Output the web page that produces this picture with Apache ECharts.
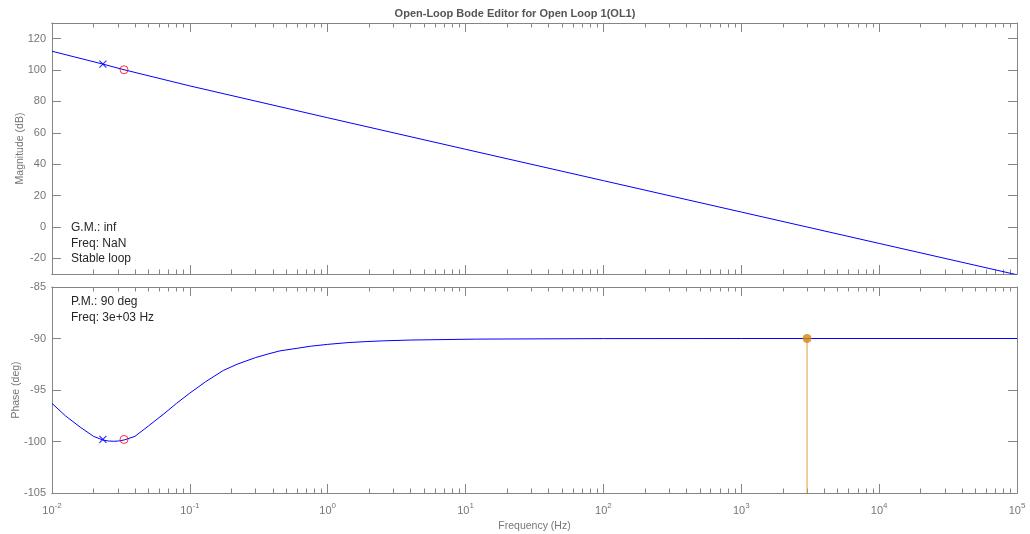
<!DOCTYPE html>
<html><head><meta charset="utf-8">
<script src="https://cdn.jsdelivr.net/npm/echarts@6/dist/echarts.min.js"></script>
<style>html,body{margin:0;padding:0;background:#fff}#c{width:1030px;height:534px}</style>
</head><body><div id="c"></div>
<script>
// ---- data ----
const magFreq = [0.01, 0.0234, 0.0333, 0.1, 1, 10, 100, 1000, 10000, 100000];
const magDb   = [112, 103.8, 100.2, 89.9, 69.6, 49.5, 29.5, 9.5, -10.5, -30.5];
const phaseFreq = [0.01, 0.0125, 0.016, 0.02, 0.0234, 0.0256, 0.028, 0.0305, 0.0334, 0.04, 0.05, 0.065, 0.08, 0.1, 0.13, 0.175, 0.22, 0.3, 0.37, 0.45, 0.6, 0.75, 1, 1.4, 1.9, 2.5, 4, 12, 100, 1000, 100000];
const phaseDeg  = [-96.3, -97.5, -98.6, -99.5, -99.85, -99.95, -99.98, -99.95, -99.85, -99.5, -98.5, -97.3, -96.3, -95.3, -94.2, -93.1, -92.5, -91.85, -91.5, -91.2, -90.95, -90.75, -90.57, -90.4, -90.3, -90.23, -90.15, -90.06, -90.01, -90, -90];
const poleFreq = [0.0234], poleMag = [103.8], polePhase = [-99.8];
const zeroFreq = [0.0333], zeroMag = [100.2], zeroPhase = [-99.8];
const pmFreq = [3000], pmPhase = [-90], phaseFloor = [-105];
const magTicks = [-20, 0, 20, 40, 60, 80, 100, 120];
const phaseTicks = [-105, -100, -95, -90, -85];
const decades = [-2, -1, 0, 1, 2, 3, 4, 5];
const minorMult = [2, 3, 4, 5, 6, 7, 8, 9];
const titleText = 'Open-Loop Bode Editor for Open Loop 1(OL1)';
const gmText = ['G.M.: inf', 'Freq: NaN', 'Stable loop'];
const pmText = ['P.M.: 90 deg', 'Freq: 3e+03 Hz'];

// ---- helpers ----
const FONT = '"Liberation Sans", Arial, Helvetica, sans-serif';
const AX = '#858585', LBL = '#767676', TXT = '#262626';
const majors = decades.map(d => Number(Math.pow(10, d).toPrecision(3)));
const minors = [];
decades.slice(0, -1).forEach(d => minorMult.forEach(k => minors.push(Number((k * Math.pow(10, d)).toPrecision(3)))));
const zip = (a, b) => a.map((v, i) => [v, b[i]]);

function xAxesFor(grid, showLabels) {
  const base = {
    type: 'log', logBase: 10, min: 0.01, max: 100000, gridIndex: grid,
    axisLine: { show: true, onZero: false, lineStyle: { color: AX, width: 1 } },
    splitLine: { show: false }, minorTick: { show: false }
  };
  const mk = (pos, vals, len, labels, name) => Object.assign({}, base, {
    position: pos,
    axisTick: { show: true, inside: true, length: len, customValues: vals, lineStyle: { color: AX } },
    axisLabel: labels ? {
      show: true, customValues: majors, margin: 9, fontFamily: FONT, color: LBL,
      formatter: v => '{b|10}{s|' + Math.round(Math.log10(v)) + '}',
      rich: { b: { fontSize: 11, fontFamily: FONT, color: LBL, verticalAlign: 'bottom', lineHeight: 14 },
              s: { fontSize: 8, fontFamily: FONT, color: LBL, verticalAlign: 'top', lineHeight: 14 } }
    } : { show: false },
    name: name || '', nameLocation: 'middle', nameGap: 28, nameMoveOverlap: false,
    nameTextStyle: { fontFamily: FONT, fontSize: 10.5, color: LBL }
  });
  return [
    mk('bottom', majors, 9, showLabels, showLabels ? 'Frequency (Hz)' : ''),
    mk('bottom', minors, 4.5, false),
    mk('top', majors, 9, false),
    mk('top', minors, 4.5, false)
  ];
}
function yAxesFor(grid, min, max, ticks, name, gap) {
  const base = {
    type: 'value', min: min, max: max, gridIndex: grid,
    axisLine: { show: true, onZero: false, lineStyle: { color: AX, width: 1 } },
    splitLine: { show: false },
    axisTick: { show: true, inside: true, length: 9, customValues: ticks, lineStyle: { color: AX } }
  };
  return [
    Object.assign({}, base, { position: 'left',
      axisLabel: { show: true, customValues: ticks, margin: 6, fontFamily: FONT, fontSize: 11, color: LBL },
      name: name, nameLocation: 'middle', nameGap: gap, nameMoveOverlap: false,
      nameTextStyle: { fontFamily: FONT, fontSize: 10.5, color: LBL } }),
    Object.assign({}, base, { position: 'right', axisLabel: { show: false } })
  ];
}

const xMark = 'path://M0,0L10,10M10,0L0,10';
const option = {
  animation: false,
  backgroundColor: '#ffffff',
  grid: [
    { left: 52, top: 23, width: 965, height: 251, containLabel: false, outerBoundsMode: 'none' },
    { left: 52, top: 287, width: 965, height: 206, containLabel: false, outerBoundsMode: 'none' }
  ],
  xAxis: [].concat(xAxesFor(0, false), xAxesFor(1, true)),
  yAxis: [].concat(yAxesFor(0, -30, 130, magTicks, 'Magnitude (dB)', 26),
                   yAxesFor(1, -105, -85, phaseTicks, 'Phase (deg)', 30)),
  series: [
    { type: 'line', xAxisIndex: 0, yAxisIndex: 0, data: zip(magFreq, magDb), symbol: 'none',
      lineStyle: { color: '#0000ff', width: 1 }, z: 3 },
    { type: 'scatter', xAxisIndex: 0, yAxisIndex: 0, data: zip(poleFreq, poleMag), symbol: xMark, symbolSize: 7,
      itemStyle: { color: 'rgba(0,0,0,0)', borderColor: '#0000ff', borderWidth: 1.2 }, z: 4 },
    { type: 'scatter', xAxisIndex: 0, yAxisIndex: 0, data: zip(zeroFreq, zeroMag), symbol: 'circle', symbolSize: 8,
      itemStyle: { color: 'rgba(0,0,0,0)', borderColor: '#ff0000', borderWidth: 1 }, z: 4 },
    { type: 'line', xAxisIndex: 4, yAxisIndex: 2, data: zip(phaseFreq, phaseDeg), symbol: 'none', smooth: false,
      lineStyle: { color: '#0000ff', width: 1 }, z: 3 },
    { type: 'scatter', xAxisIndex: 4, yAxisIndex: 2, data: zip(poleFreq, polePhase), symbol: xMark, symbolSize: 7,
      itemStyle: { color: 'rgba(0,0,0,0)', borderColor: '#0000ff', borderWidth: 1.2 }, z: 4 },
    { type: 'scatter', xAxisIndex: 4, yAxisIndex: 2, data: zip(zeroFreq, zeroPhase), symbol: 'circle', symbolSize: 8,
      itemStyle: { color: 'rgba(0,0,0,0)', borderColor: '#ff0000', borderWidth: 1 }, z: 4 },
    { type: 'line', xAxisIndex: 4, yAxisIndex: 2, data: [[pmFreq[0], pmPhase[0]], [pmFreq[0], phaseFloor[0]]],
      symbol: 'none', lineStyle: { color: '#e2a043', width: 1 }, z: 4 },
    { type: 'scatter', xAxisIndex: 4, yAxisIndex: 2, data: zip(pmFreq, pmPhase), symbol: 'circle', symbolSize: 9,
      itemStyle: { color: '#d4860f' }, z: 5 }
  ],
  graphic: [
    { type: 'text', left: 'center', top: 8, style: { text: titleText, fontFamily: FONT, fontSize: 11, fontWeight: 'bold', fill: '#555555' } }
  ].concat(gmText.map((t, i) => ({ type: 'text', x: 71, y: 228 + i * 15.5,
      style: { text: t, fontFamily: FONT, fontSize: 12, fill: TXT, textVerticalAlign: 'middle' } })))
   .concat(pmText.map((t, i) => ({ type: 'text', x: 71, y: 302 + i * 15.5,
      style: { text: t, fontFamily: FONT, fontSize: 12, fill: TXT, textVerticalAlign: 'middle' } })))
};
const chart = echarts.init(document.getElementById('c'), null, { renderer: 'canvas' });
chart.setOption(option);
</script>
</body></html>
